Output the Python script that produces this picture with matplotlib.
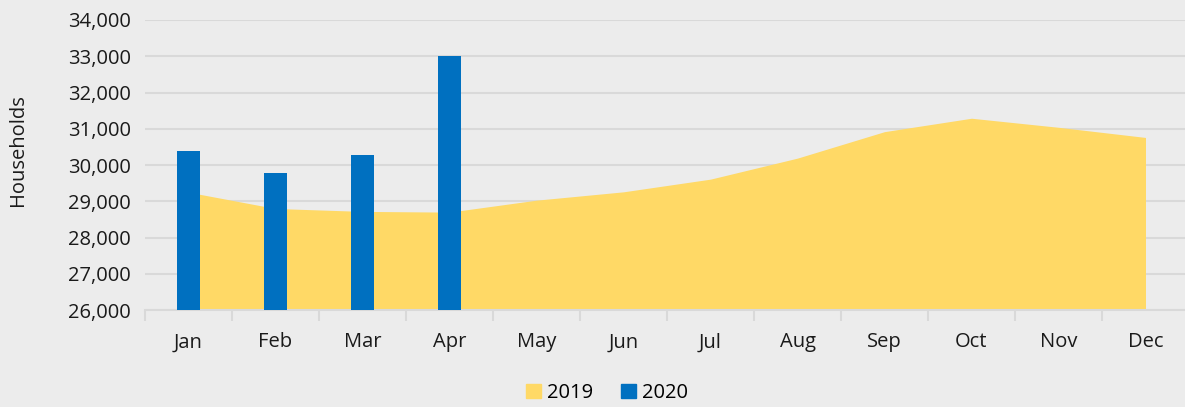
import matplotlib.pyplot as plt
from matplotlib.patches import Patch
from matplotlib.ticker import FuncFormatter, FixedLocator
import numpy

# Data
months = ['Jan', 'Feb', 'Mar', 'Apr', 'May', 'Jun', 'Jul', 'Aug', 'Sep', 'Oct', 'Nov', 'Dec']
households2019 = [29250, 28800, 28720, 28700, 29030, 29260, 29610, 30190, 30920, 31290, 31040, 30760]
households2020 = [30390, 29770, 30280, 33000]

BG = '#ECECEC'
GRID = '#D9D9D9'
YELLOW = '#FFD966'
BLUE = '#0070C0'
TEXT = '#1a1a1a'
FS = 14.5

plt.rcParams['font.family'] = ['Open Sans', 'DejaVu Sans']

fig = plt.figure(figsize=(11.85, 4.07), dpi=100, facecolor=BG)
ax = fig.add_axes([145 / 1185, 1 - 310 / 407, 1044 / 1185, 290 / 407])
ax.set_facecolor(BG)

x = numpy.arange(len(months))
ax.fill_between(x, households2019, 26000, color=YELLOW, linewidth=0, zorder=2)
ax.bar(numpy.arange(len(households2020)), numpy.array(households2020) - 26000, bottom=26000,
       width=0.265, color=BLUE, zorder=3)

ax.set_xlim(-0.5, 11.5)
ax.set_ylim(26000, 34000)
ax.set_yticks(range(26000, 34001, 1000))
ax.yaxis.set_major_formatter(FuncFormatter(lambda v, p: f'{int(v):,}'))
ax.grid(axis='y', color=GRID, linewidth=1.5, zorder=0)
ax.set_axisbelow(True)

# category labels centred, tick marks between categories
ax.set_xticks(x)
ax.set_xticklabels(months)
ax.xaxis.set_minor_locator(FixedLocator(numpy.arange(-0.5, 12, 1)))
ax.tick_params(axis='x', which='major', length=0, pad=16, labelsize=FS, colors=TEXT)
ax.tick_params(axis='x', which='minor', length=8, width=1.5, color=GRID)
ax.tick_params(axis='y', length=0, pad=10, labelsize=FS, labelcolor=TEXT)

for side in ['top', 'right', 'left']:
    ax.spines[side].set_visible(False)
ax.spines['bottom'].set_color(GRID)
ax.spines['bottom'].set_linewidth(1.5)

ax.set_ylabel('Households', fontsize=FS, color=TEXT)
ax.yaxis.set_label_coords((28 - 145) / 1044, (310 - 150) / 290)

handles = [Patch(color=YELLOW, label='2019'), Patch(color=BLUE, label='2020')]
fig.legend(handles=handles, loc='center', bbox_to_anchor=(607 / 1185, 1 - 393 / 407), ncol=2,
           frameon=False, fontsize=FS, handlelength=0.75, handleheight=0.75, handletextpad=0.3,
           columnspacing=1.4)

fig.savefig('out.png', dpi=100, facecolor=BG)
